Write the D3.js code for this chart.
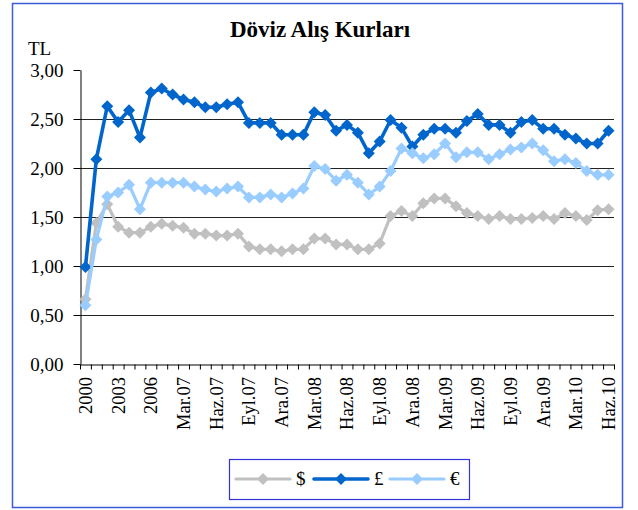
<!DOCTYPE html>
<html lang="tr">
<head>
<meta charset="utf-8">
<title>Döviz Alış Kurları</title>
<script src="https://d3js.org/d3.v7.min.js"></script>
<style>
  html, body { margin: 0; padding: 0; background: #fff; }
  svg { display: block; font-family: "Liberation Serif", "Times New Roman", serif; }
</style>
</head>
<body>
<svg id="chart" width="638" height="510"></svg>
<script>
// categories: yearly 2000-2006, then monthly Oca.07 - Haz.10
const years = ["2000", "2001", "2002", "2003", "2004", "2005", "2006"];
const months = ["Oca", "Şub", "Mar", "Nis", "May", "Haz", "Tem", "Ağu", "Eyl", "Eki", "Kas", "Ara"];
const monthly = ["07", "08", "09", "10"].flatMap(yy => months.map(m => m + "." + yy)).slice(0, 42);
const categories = years.concat(monthly);

// every third category carries a label
const tickLabels = ["2000", "2003", "2006", "Mar.07", "Haz.07", "Eyl.07", "Ara.07", "Mar.08", "Haz.08",
  "Eyl.08", "Ara.08", "Mar.09", "Haz.09", "Eyl.09", "Ara.09", "Mar.10", "Haz.10"];

const usd = [0.66, 1.44, 1.63, 1.40, 1.34, 1.34, 1.40, 1.43, 1.41, 1.39, 1.33, 1.33, 1.31, 1.31, 1.33,
  1.20, 1.17, 1.17, 1.15, 1.17, 1.17, 1.28, 1.28, 1.22, 1.22, 1.17, 1.17, 1.23, 1.51, 1.56, 1.51, 1.64,
  1.69, 1.69, 1.61, 1.54, 1.51, 1.48, 1.51, 1.48, 1.48, 1.49, 1.51, 1.48, 1.54, 1.51, 1.47, 1.57, 1.58];
const gbp = [0.99, 2.09, 2.63, 2.47, 2.59, 2.31, 2.77, 2.81, 2.75, 2.70, 2.67, 2.62, 2.62, 2.65, 2.67,
  2.46, 2.46, 2.46, 2.34, 2.34, 2.34, 2.57, 2.54, 2.38, 2.44, 2.36, 2.15, 2.27, 2.49, 2.41, 2.22, 2.34,
  2.40, 2.40, 2.36, 2.48, 2.55, 2.44, 2.44, 2.36, 2.47, 2.49, 2.40, 2.40, 2.34, 2.30, 2.25, 2.25, 2.38];
const eur = [0.60, 1.27, 1.71, 1.75, 1.83, 1.58, 1.85, 1.85, 1.85, 1.85, 1.81, 1.78, 1.76, 1.79, 1.81,
  1.70, 1.70, 1.73, 1.70, 1.74, 1.79, 2.02, 1.99, 1.87, 1.93, 1.85, 1.73, 1.81, 1.97, 2.20, 2.15, 2.10,
  2.14, 2.25, 2.11, 2.16, 2.16, 2.09, 2.14, 2.19, 2.21, 2.25, 2.18, 2.07, 2.09, 2.05, 1.97, 1.93, 1.93];

const yTicks = [0, 0.5, 1, 1.5, 2, 2.5, 3];

const series = [
  { name: "$", values: usd, color: "#c0c0c0", width: 3.2 },
  { name: "£", values: gbp, color: "#0066cc", width: 3.6 },
  { name: "€", values: eur, color: "#99ccff", width: 3.2 }
];

const svg = d3.select("#chart");
const plot = { left: 80, right: 614, top: 70, bottom: 364 };

// outer chart border
svg.append("rect")
  .attr("x", 12.5).attr("y", 3.5).attr("width", 610).attr("height", 504)
  .attr("fill", "#fff").attr("stroke", "#3b5bdb").attr("stroke-width", 1.5);

svg.append("text")
  .attr("x", 320).attr("y", 37)
  .attr("text-anchor", "middle")
  .attr("font-size", 23).attr("font-weight", "bold")
  .text("Döviz Alış Kurları");

svg.append("text")
  .attr("x", 28).attr("y", 55)
  .attr("font-size", 19)
  .text("TL");

const x = d3.scaleBand().domain(categories).range([plot.left, plot.right]);
const xTick = d3.scaleLinear().domain([0, categories.length]).range([plot.left, plot.right]);
const y = d3.scaleLinear().domain([0, 3]).range([plot.bottom, plot.top]);
const cx = c => x(c) + x.bandwidth() / 2;

// gridlines
svg.append("g")
  .selectAll("line")
  .data(yTicks.filter(t => t > 0 && t < 3))
  .join("line")
  .attr("x1", plot.left).attr("x2", plot.right)
  .attr("y1", d => Math.round(y(d)) + 0.5).attr("y2", d => Math.round(y(d)) + 0.5)
  .attr("stroke", "#222").attr("stroke-width", 1);

// y axis
const yAxis = svg.append("g")
  .attr("transform", `translate(${plot.left + 0.5},0)`)
  .call(d3.axisLeft(y).tickValues(yTicks)
    .tickFormat(d => d.toFixed(2).replace(".", ","))
    .tickSize(7).tickSizeOuter(0).tickPadding(10));
yAxis.selectAll("text").attr("font-size", 19).attr("font-family", "Liberation Serif").attr("fill", "#000");
yAxis.selectAll("line, path").attr("stroke", "#000");

// x axis: tick marks between categories
const xAxis = svg.append("g")
  .attr("transform", `translate(0,${plot.bottom + 0.5})`)
  .call(d3.axisBottom(xTick).tickValues(d3.range(categories.length + 1))
    .tickFormat("").tickSize(5).tickSizeOuter(0));
xAxis.selectAll("line, path").attr("stroke", "#000");

svg.append("g")
  .selectAll("text")
  .data(tickLabels)
  .join("text")
  .attr("transform", d => `translate(${cx(d)},${plot.bottom + 13}) rotate(-90)`)
  .attr("text-anchor", "end")
  .attr("dy", "0.35em")
  .attr("font-size", 18.5)
  .text(d => d);

// series lines and diamond markers
const line = d3.line().x((v, i) => cx(categories[i])).y(v => y(v));
const diamond = "M0,-6L6,0L0,6L-6,0Z";

series.forEach(s => {
  const g = svg.append("g");
  g.append("path")
    .attr("d", line(s.values))
    .attr("fill", "none")
    .attr("stroke", s.color)
    .attr("stroke-width", s.width)
    .attr("stroke-linejoin", "round");
  g.selectAll("path.pt")
    .data(s.values)
    .join("path")
    .attr("class", "pt")
    .attr("d", diamond)
    .attr("transform", (v, i) => `translate(${cx(categories[i])},${y(v)})`)
    .attr("fill", s.color);
});

// legend
const legend = svg.append("g");
legend.append("rect")
  .attr("x", 229.5).attr("y", 459.5).attr("width", 240).attr("height", 40)
  .attr("fill", "#fff").attr("stroke", "#3333dd").attr("stroke-width", 1.2);

const legendX = [236, 314, 390];
series.forEach((s, i) => {
  const lx = legendX[i], ly = 479;
  legend.append("line")
    .attr("x1", lx).attr("x2", lx + 54).attr("y1", ly).attr("y2", ly)
    .attr("stroke", s.color).attr("stroke-width", s.width).attr("stroke-linecap", "round");
  legend.append("path")
    .attr("d", diamond)
    .attr("transform", `translate(${lx + 27},${ly})`)
    .attr("fill", s.color);
  legend.append("text")
    .attr("x", lx + 60).attr("y", ly + 6)
    .attr("font-size", 19)
    .text(s.name);
});
</script>
</body>
</html>
